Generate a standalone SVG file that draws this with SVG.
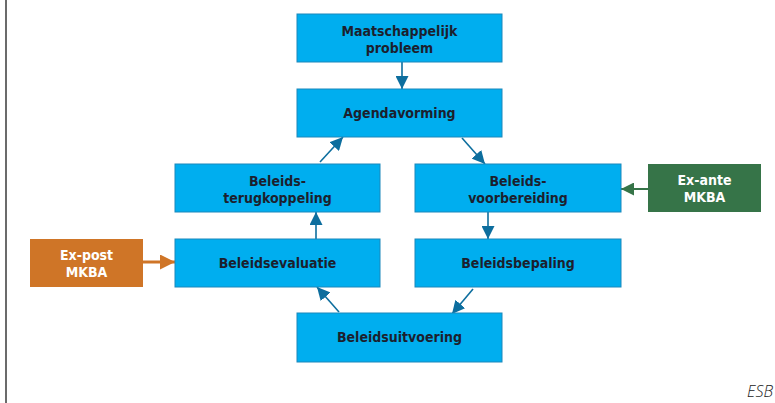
<svg xmlns="http://www.w3.org/2000/svg" width="775" height="403" viewBox="0 0 775 403">
<style>
.box{fill:#00aeef;stroke:#1b88bb;stroke-width:1}
.t{font-family:"DejaVu Sans Condensed","DejaVu Sans",sans-serif;font-stretch:condensed;font-weight:700;font-size:14px;fill:#1c1f2e;text-anchor:middle}
.w{fill:#ffffff}
.c{stroke:#0d6e9e;stroke-width:1.6;fill:none}
</style>
<defs>
<marker id="ah" markerWidth="13" markerHeight="13" refX="10" refY="5" orient="auto" markerUnits="userSpaceOnUse" viewBox="0 0 10 10">
<path d="M0,0 L10,5 L0,10 z" fill="#0d6e9e"/>
</marker>
<marker id="ahg" markerWidth="13" markerHeight="13" refX="10" refY="5" orient="auto" markerUnits="userSpaceOnUse" viewBox="0 0 10 10">
<path d="M0,0 L10,5 L0,10 z" fill="#367448"/>
</marker>
<marker id="aho" markerWidth="15" markerHeight="15" refX="10" refY="5" orient="auto" markerUnits="userSpaceOnUse" viewBox="0 0 10 10">
<path d="M0,0 L10,5 L0,10 z" fill="#cf7527"/>
</marker>
</defs>
<rect width="775" height="403" fill="#ffffff"/>
<line x1="6" y1="0" x2="6" y2="403" stroke="#3a3a3a" stroke-width="1.5"/>
<g id="connectors">
<line class="c" x1="402" y1="62" x2="402" y2="89" marker-end="url(#ah)"/>
<line class="c" x1="462" y1="138" x2="485" y2="164" marker-end="url(#ah)"/>
<line class="c" x1="320" y1="162" x2="343" y2="137" marker-end="url(#ah)"/>
<line class="c" x1="316" y1="239" x2="316" y2="212" marker-end="url(#ah)"/>
<line class="c" x1="339" y1="312" x2="317" y2="287" marker-end="url(#ah)"/>
<line class="c" x1="473" y1="289" x2="452" y2="314" marker-end="url(#ah)"/>
<line class="c" x1="488" y1="212" x2="488" y2="239" marker-end="url(#ah)"/>
<line x1="648" y1="189" x2="621" y2="189" stroke="#367448" stroke-width="2" marker-end="url(#ahg)"/>
<line x1="143" y1="262" x2="175" y2="262" stroke="#cf7527" stroke-width="3" marker-end="url(#aho)"/>
</g>
<g id="maatschappelijk-probleem">
<rect class="box" x="297" y="14" width="205" height="48"/>
<text class="t" x="399.5" y="36">Maatschappelijk</text>
<text class="t" x="399.5" y="53">probleem</text>
</g>
<g id="agendavorming">
<rect class="box" x="297" y="89" width="205" height="48"/>
<text class="t" x="399.5" y="118">Agendavorming</text>
</g>
<g id="beleidsterugkoppeling">
<rect class="box" x="175" y="164" width="205" height="48"/>
<text class="t" x="277.5" y="186">Beleids-</text>
<text class="t" x="277.5" y="203">terugkoppeling</text>
</g>
<g id="beleidsvoorbereiding">
<rect class="box" x="415" y="164" width="206" height="48"/>
<text class="t" x="518" y="186">Beleids-</text>
<text class="t" x="518" y="203">voorbereiding</text>
</g>
<g id="ex-ante-mkba">
<rect x="648" y="164" width="113" height="48" fill="#367448"/>
<text class="t w" x="704.5" y="185">Ex-ante</text>
<text class="t w" x="704.5" y="202">MKBA</text>
</g>
<g id="beleidsevaluatie">
<rect class="box" x="175" y="239" width="205" height="48"/>
<text class="t" x="277.5" y="268">Beleidsevaluatie</text>
</g>
<g id="beleidsbepaling">
<rect class="box" x="415" y="239" width="206" height="48"/>
<text class="t" x="518" y="268">Beleidsbepaling</text>
</g>
<g id="ex-post-mkba">
<rect x="30" y="239" width="113" height="48" fill="#cf7527"/>
<text class="t w" x="86.5" y="260">Ex-post</text>
<text class="t w" x="86.5" y="277">MKBA</text>
</g>
<g id="beleidsuitvoering">
<rect class="box" x="297" y="313" width="205" height="49"/>
<text class="t" x="399.5" y="342">Beleidsuitvoering</text>
</g>
<text x="773" y="397" font-family="'Open Sans','Liberation Sans',sans-serif" font-style="italic" font-weight="300" font-size="16" fill="#222" text-anchor="end">ESB</text>
</svg>
